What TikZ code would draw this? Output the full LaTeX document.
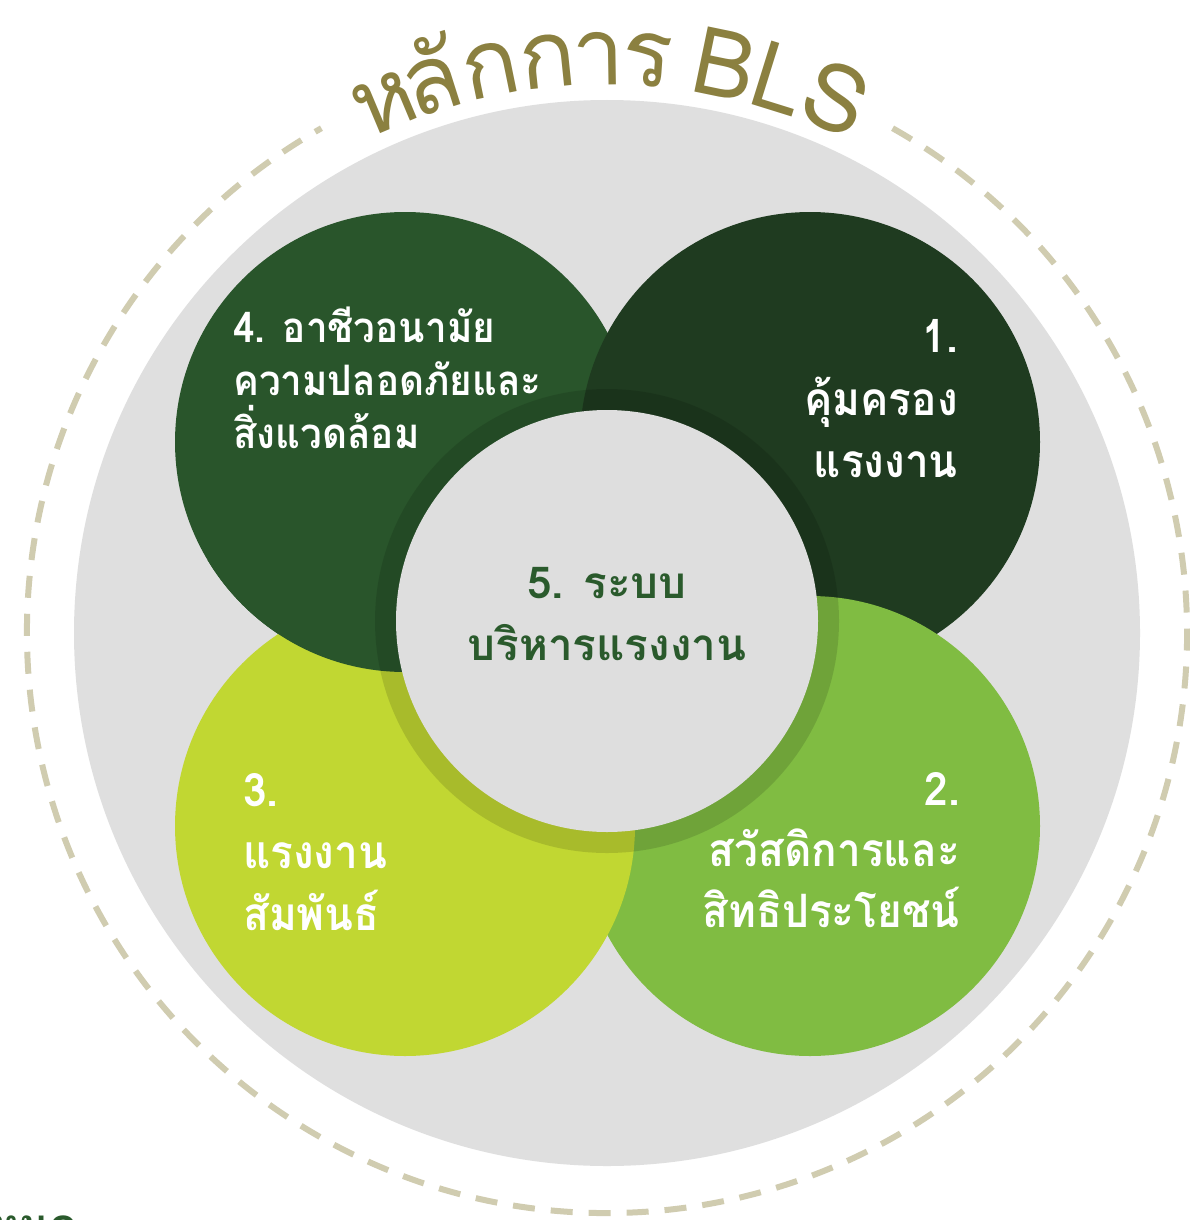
\documentclass[tikz,border=0pt]{standalone}
\usepackage{fontspec}
\newfontfamily\thaifont[Script=Thai]{Loma}
\newfontfamily\thaicond[Script=Thai, FakeStretch=0.92]{Loma}
\definecolor{cfour}{HTML}{29552B}
\definecolor{cone}{HTML}{1F3B20}
\definecolor{ctwo}{HTML}{80BC42}
\definecolor{cthree}{HTML}{C1D732}
\definecolor{bggray}{HTML}{DFDFDF}
\definecolor{midgray}{HTML}{DEDEDE}
\definecolor{dashcol}{HTML}{D0CCB0}
\definecolor{titlecol}{HTML}{8B8040}
\definecolor{midtext}{HTML}{2A5A2C}
\tikzset{
  bigcirc/.style={circle, inner sep=0pt, minimum size=460pt},
  lbl/.style={text=white, inner sep=0pt, font=\thaicond\bfseries\fontsize{46}{50}\selectfont},
  lblsmall/.style={text=white, inner sep=0pt, font=\thaicond\bfseries\fontsize{42}{46}\selectfont},
  midlbl/.style={text=midtext, inner sep=0pt, font=\thaifont\bfseries\fontsize{44}{48}\selectfont},
  titlelbl/.style={text=titlecol, inner sep=0pt, font=\thaifont\fontsize{94}{100}\selectfont},
}
\begin{document}
\begin{tikzpicture}[x=1pt,y=-1pt]
\useasboundingbox (0,0) rectangle (1189,1220);
\fill[white] (0,0) rectangle (1189,1220);
% dashed outer ring
\coordinate (ctr) at (607,633);
\draw[dashcol, line width=6pt, dash pattern=on 22pt off 16pt] (ctr) ++(299.5:580) arc[start angle=299.5, end angle=600.5, radius=580];
% gray disc
\node[circle, inner sep=0pt, minimum size=1066pt, fill=bggray] (bg) at (ctr) {};
% four circles (cyclic overlap)
\node[bigcirc, fill=cfour] (c4) at (405,442) {};
\node[bigcirc, fill=cone] (c1) at (810,442) {};
\node[bigcirc, fill=ctwo] (c2) at (810,826) {};
\node[bigcirc, fill=cthree] (c3) at (405,826) {};
\begin{scope}
  \clip (0,560) rectangle (560,1220);
  \node[bigcirc, fill=cfour] (c4b) at (405,442) {};
\end{scope}
% center ring and disc
\fill[black, opacity=0.13] (607,621) circle (232);
\node[circle, inner sep=0pt, minimum size=422pt, fill=midgray] (c5) at (607,621) {};
% title along arc
\foreach \t/\a [count=\i] in {ห/-22.8, ลั/-17.6, ก/-11.6, ก/-5.9, า/-0.9, ร/4.0, B/11.7, L/17.3, S/23.2}
  \node[titlelbl, anchor=base, rotate=-\a] (title\i) at ({607+548*cos(270+\a)},{633+548*sin(270+\a)}) {\t};
% labels circle 4
\node[lblsmall, anchor=base west] (l4a) at (233,342) {4. อาชีวอนามัย};
\node[lblsmall, anchor=base west] (l4b) at (233,395) {ความปลอดภัยและ};
\node[lblsmall, anchor=base west] (l4c) at (233,448) {สิ่งแวดล้อม};
% circle 1
\node[lbl, anchor=base east] (l1a) at (958,352) {1.};
\node[lbl, anchor=base east] (l1b) at (958,415) {คุ้มครอง};
\node[lbl, anchor=base east] (l1c) at (958,477) {แรงงาน};
% circle 2
\node[lbl, anchor=base east] (l2a) at (960,805) {2.};
\node[lbl, anchor=base east] (l2b) at (960,866) {สวัสดิการและ};
\node[lbl, anchor=base east] (l2c) at (960,927) {สิทธิประโยชน์};
% circle 3
\node[lbl, anchor=base west] (l3a) at (243,806) {3.};
\node[lbl, anchor=base west] (l3b) at (243,868) {แรงงาน};
\node[lbl, anchor=base west] (l3c) at (243,930) {สัมพันธ์};
% center
\node[midlbl, anchor=base] (l5a) at (607,598) {5. ระบบ};
\node[midlbl, anchor=base] (l5b) at (607,660) {บริหารแรงงาน};
% cut-off fragment at bottom left
\node[midlbl, anchor=base west] (frag) at (-10,1240) {หนด};
\end{tikzpicture}
\end{document}
